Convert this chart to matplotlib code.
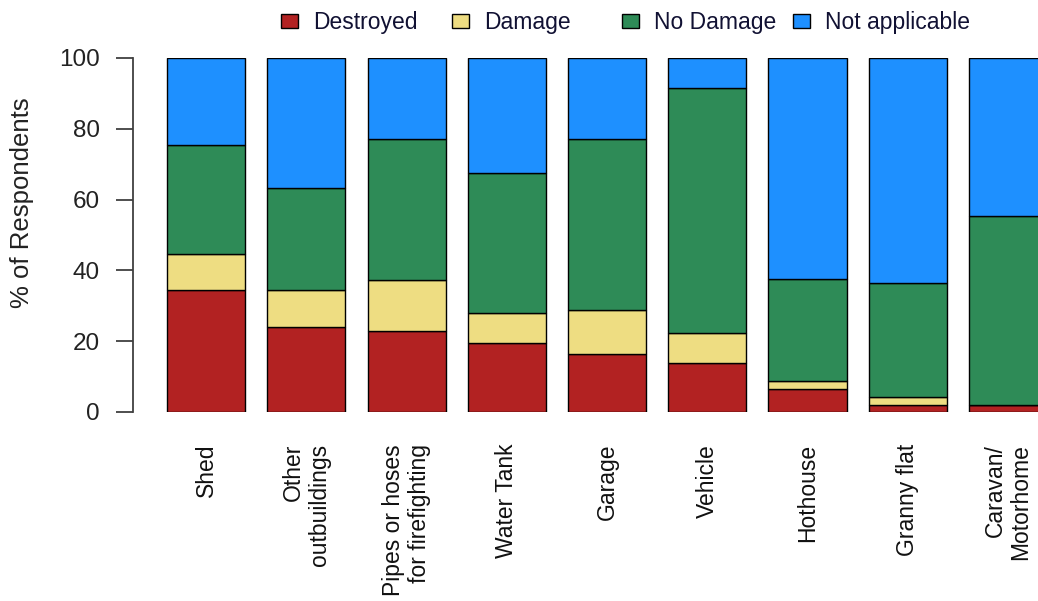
import matplotlib
matplotlib.use("Agg")
import matplotlib.pyplot as plt
import numpy as np

plt.rcParams['font.family'] = ['Liberation Sans', 'DejaVu Sans']

# Data (% of respondents)
categories = ['Shed', 'Other\noutbuildings', 'Pipes or hoses\nfor firefighting', 'Water Tank',
              'Garage', 'Vehicle', 'Hothouse', 'Granny flat', 'Caravan/\nMotorhome']
destroyed = [34.4, 24.1, 22.8, 19.6, 16.3, 13.9, 6.4, 1.9, 1.9]
damage = [10.2, 10.3, 14.4, 8.3, 12.5, 8.5, 2.3, 2.3, 0.0]
no_damage = [30.9, 28.8, 40.0, 39.6, 48.4, 69.2, 29.0, 32.1, 53.4]
series_names = ['Destroyed', 'Damage', 'No Damage', 'Not applicable']
colors = ['#B22222', '#EEDD82', '#2E8B57', '#1E90FF']

destroyed = np.array(destroyed)
damage = np.array(damage)
no_damage = np.array(no_damage)
not_applicable = 100 - destroyed - damage - no_damage

fig = plt.figure(figsize=(10.38, 6.01), dpi=100)
ax = fig.add_axes([133 / 1038, 1 - 412 / 601, 1 - 133 / 1038, 354 / 601])

x = np.arange(len(categories))
bottom = np.zeros(len(categories))
handles = []
for vals, c in zip([destroyed, damage, no_damage, not_applicable], colors):
    b = ax.bar(x, vals, bottom=bottom, width=0.78, color=c, edgecolor='black',
               linewidth=1.0)
    handles.append(b)
    bottom = bottom + vals

ax.set_xlim(-0.73, 8.30)
ax.set_ylim(0, 100)
for s in ['top', 'right', 'bottom']:
    ax.spines[s].set_visible(False)
ax.spines['left'].set_color('#404040')
ax.spines['left'].set_linewidth(1.3)
ax.set_yticks([0, 20, 40, 60, 80, 100])
ax.tick_params(axis='y', length=12, width=1.3, color='#404040', pad=12,
               labelsize=17.5, labelcolor='#222222')
ax.set_xticks(x)
ax.set_xticklabels(categories, rotation=90, va='top', ha='center',
                   multialignment='right', fontsize=16.5, color='#111111',
                   linespacing=1.15)
ax.tick_params(axis='x', length=0, pad=23)

# y axis title
fig.text(22 / 1038, 1 - 203 / 601, '% of Respondents', rotation=90,
         ha='center', va='center', fontsize=18.5, color='#222222')

# legend entries placed across the top
leg_x = [281, 452, 622, 793]
for h, name, lx in zip(handles, series_names, leg_x):
    leg = fig.legend([h], [name], loc='upper left',
                     bbox_to_anchor=(lx / 1038, 1 - 11 / 601),
                     frameon=False, fontsize=16.5, handlelength=0.75,
                     handleheight=0.6, handletextpad=0.65, borderpad=0,
                     borderaxespad=0)
    for t in leg.get_texts():
        t.set_color('#111133')

fig.savefig('out.png', dpi=100)
